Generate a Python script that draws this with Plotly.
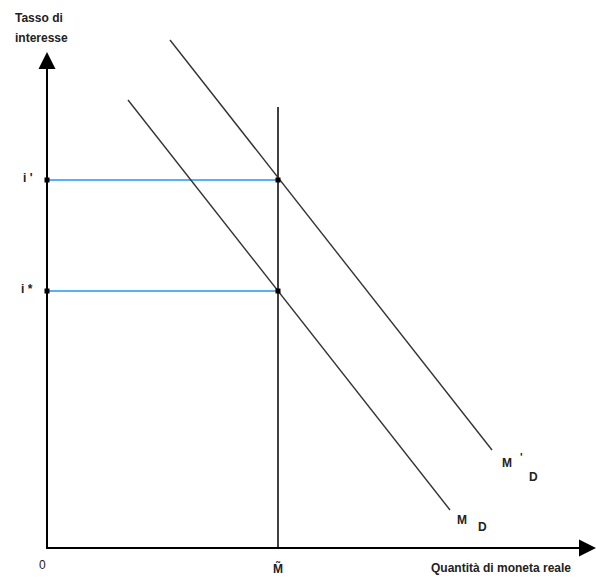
import plotly.graph_objects as go

# Money market: fixed real money supply, demand shifting outward
m_bar = 231            # real money supply (vertical line)
i_star = 257           # initial equilibrium interest rate
i_prime = 368          # new equilibrium interest rate
supply_top = 441       # height of the supply line

md_x = [81, 403]       # money demand M_D
md_y = [448, 38]
md1_x = [123, 445]     # shifted money demand M'_D
md1_y = [508, 98]

x_axis_end = 549
y_axis_end = 496

rate_levels = [i_prime, i_star]
rate_labels = ["i '", "i *"]

fig = go.Figure()

# horizontal guides from the axis to the equilibria
for lvl in rate_levels:
    fig.add_trace(go.Scatter(x=[0, m_bar], y=[lvl, lvl], mode="lines",
                             line=dict(color="#2196f3", width=1.5),
                             hoverinfo="skip"))

# money supply
fig.add_trace(go.Scatter(x=[m_bar, m_bar], y=[0, supply_top], mode="lines",
                         line=dict(color="black", width=1.5), hoverinfo="skip"))

# demand curves
fig.add_trace(go.Scatter(x=md_x, y=md_y, mode="lines",
                         line=dict(color="#333333", width=1.4), hoverinfo="skip"))
fig.add_trace(go.Scatter(x=md1_x, y=md1_y, mode="lines",
                         line=dict(color="#333333", width=1.4), hoverinfo="skip"))

# axes
fig.add_trace(go.Scatter(x=[0, 0, x_axis_end - 10], y=[y_axis_end - 12, 0, 0], mode="lines",
                         line=dict(color="black", width=2), hoverinfo="skip"))

# equilibrium points and their projections on the vertical axis
fig.add_trace(go.Scatter(x=[0, 0, m_bar, m_bar], y=[i_prime, i_star, i_prime, i_star],
                         mode="markers",
                         marker=dict(symbol="square", size=5, color="black"),
                         hoverinfo="skip"))

font = dict(family="Liberation Sans, Arial, sans-serif", size=12, color="#222222")


def label(x, y, text, anchor="left", size=12):
    return dict(x=x, y=y, xref="x", yref="y", text="<b>" + text + "</b>",
                showarrow=False, xanchor=anchor, yanchor="middle",
                font=dict(font, size=size))


ann = []
# arrow heads on the axes
ann.append(dict(x=0, y=y_axis_end, ax=0, ay=y_axis_end - 30, xref="x", yref="y",
                axref="x", ayref="y", showarrow=True, arrowhead=2, arrowsize=1.7,
                arrowwidth=2, arrowcolor="black", text=""))
ann.append(dict(x=x_axis_end, y=0, ax=x_axis_end - 30, ay=0, xref="x", yref="y",
                axref="x", ayref="y", showarrow=True, arrowhead=2, arrowsize=1.7,
                arrowwidth=2, arrowcolor="black", text=""))

ann.append(label(-34, 530, "Tasso di"))
ann.append(label(-34, 510, "interesse"))
for lvl, lab in zip(rate_levels, rate_labels):
    ann.append(label(-12, lvl + 2, lab, anchor="right"))
ann.append(dict(x=-5, y=-17, xref="x", yref="y", text="0", showarrow=False,
                xanchor="center", yanchor="middle", font=font))
ann.append(label(m_bar, -20, "M̃", anchor="center"))
ann.append(label(526, -20, "Quantità di moneta reale", anchor="right"))

# curve names: M'_D and M_D
ann.append(label(md1_x[1] + 8, md1_y[1] - 13, "M"))
ann.append(label(md1_x[1] + 26, md1_y[1] - 7, "'", size=11))
ann.append(label(md1_x[1] + 35, md1_y[1] - 27, "D"))
ann.append(label(md_x[1] + 5, md_y[1] - 10, "M"))
ann.append(label(md_x[1] + 26, md_y[1] - 17, "D"))

fig.update_layout(
    width=596, height=579,
    margin=dict(l=0, r=0, t=0, b=0),
    paper_bgcolor="white", plot_bgcolor="white",
    showlegend=False,
    xaxis=dict(range=[-47, 549], visible=False, fixedrange=True),
    yaxis=dict(range=[-31, 548], visible=False, fixedrange=True),
    annotations=ann,
)

fig.write_html("out.html")
